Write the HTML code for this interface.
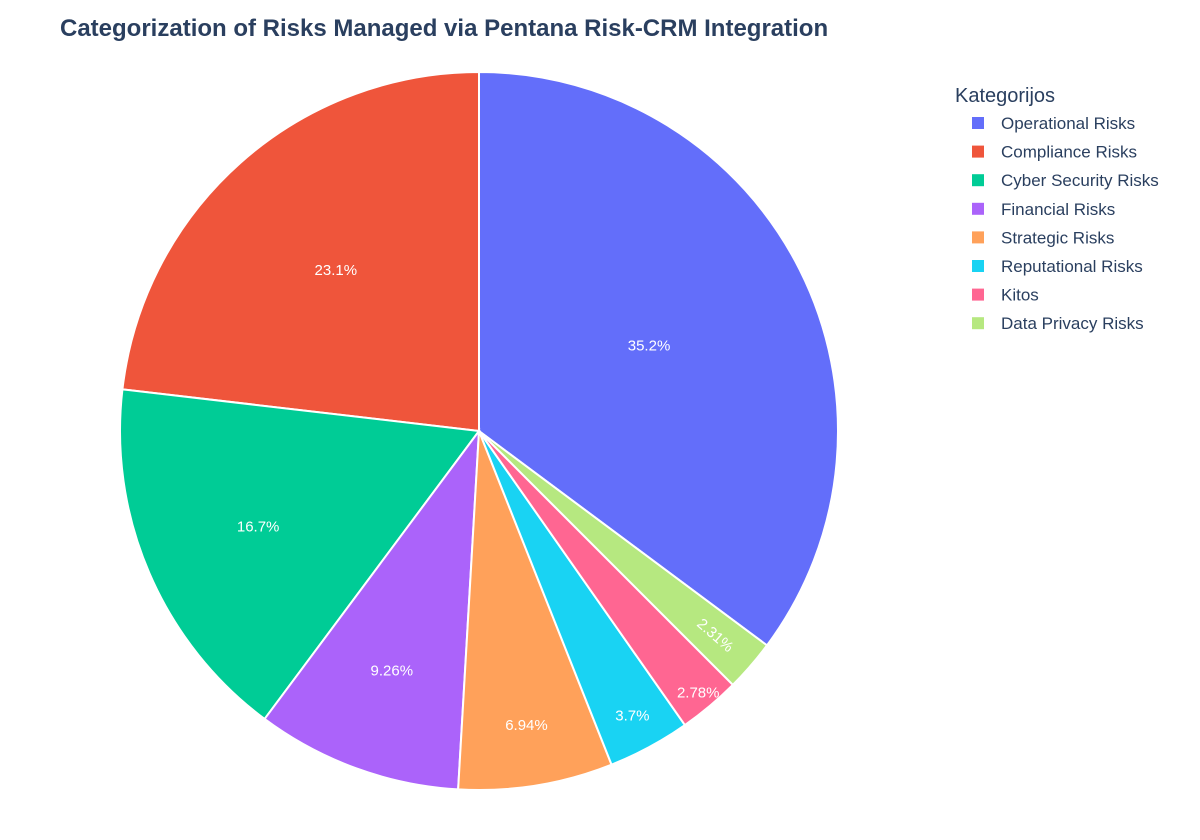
<!DOCTYPE html>
<html><head><meta charset="utf-8"><style>
html,body{margin:0;padding:0;background:#fff;}
svg{display:block;font-family:"Liberation Sans",Arial,sans-serif;}
</style></head><body>
<svg id="chart" width="1200" height="840">
<text x="60" y="36" font-size="24" font-weight="bold" fill="#2a3f5f">Categorization of Risks Managed via Pentana Risk-CRM Integration</text>
<g id="slices"></g>
<g id="labels"></g>
<g id="legend">
<text x="955" y="102" font-size="20" fill="#2a3f5f">Kategorijos</text>
</g>
</svg>
<script>
const categories = ["Operational Risks","Compliance Risks","Cyber Security Risks","Financial Risks","Strategic Risks","Reputational Risks","Kitos","Data Privacy Risks"];
const values = [76,50,36,20,15,8,6,5];
const colors = ["#636efa","#EF553B","#00cc96","#ab63fa","#FFA15A","#19d3f3","#FF6692","#B6E880"];
const labelRadius = [0.53,0.6,0.67,0.71,0.83,0.9,0.95,0.87];
const rotateLabel = [false,false,false,false,false,false,false,true];

const NS="http://www.w3.org/2000/svg";
const cx=479, cy=431, R=359;
const total=values.reduce((a,b)=>a+b,0);
function pt(angDeg,r){const a=angDeg*Math.PI/180;return [cx+r*Math.sin(a), cy-r*Math.cos(a)];}
const sG=document.getElementById('slices'), lG=document.getElementById('labels'), gG=document.getElementById('legend');
let start=values[0]/total*360;
values.forEach((v,i)=>{
  const span=v/total*360;
  const a0=start, a1=start-span;
  const p0=pt(a0,R), p1=pt(a1,R);
  const large=span>180?1:0;
  const path=document.createElementNS(NS,'path');
  path.setAttribute('d',`M${cx},${cy} L${p0[0]},${p0[1]} A${R},${R} 0 ${large} 0 ${p1[0]},${p1[1]} Z`);
  path.setAttribute('fill',colors[i]);
  path.setAttribute('stroke','#fff');
  path.setAttribute('stroke-width','2');
  
  
  sG.appendChild(path);
  const mid=(a0+a1)/2;
  const lp=pt(mid,R*labelRadius[i]);
  const pct=v/total*100;
  const txt=pct>=10?pct.toFixed(1):pct.toPrecision(3);
  const t=document.createElementNS(NS,'text');
  t.setAttribute('x',lp[0]);t.setAttribute('y',lp[1]+5);
  t.setAttribute('text-anchor','middle');t.setAttribute('font-size','15');t.setAttribute('fill','#fff');
  if(rotateLabel[i]){
    const a=mid*Math.PI/180;
    const deg=Math.atan2(-Math.cos(a),Math.sin(a))*180/Math.PI;
    t.setAttribute('transform',`rotate(${deg} ${lp[0]} ${lp[1]})`);
  }
  t.textContent=parseFloat(txt)+'%';
  
  
  lG.appendChild(t);
  start=a1;
});
categories.forEach((c,i)=>{
  const y=123+i*28.6;
  const g=document.createElementNS(NS,'g');
  
  
  const r=document.createElementNS(NS,'rect');
  r.setAttribute('x',972);r.setAttribute('y',y-6);r.setAttribute('width',12);r.setAttribute('height',12);
  r.setAttribute('fill',colors[i]);
  const t=document.createElementNS(NS,'text');
  t.setAttribute('x',1001);t.setAttribute('y',y+6);t.setAttribute('font-size','17');t.setAttribute('fill','#2a3f5f');
  t.textContent=c;
  g.appendChild(r);g.appendChild(t);gG.appendChild(g);
});
</script>
</body></html>
